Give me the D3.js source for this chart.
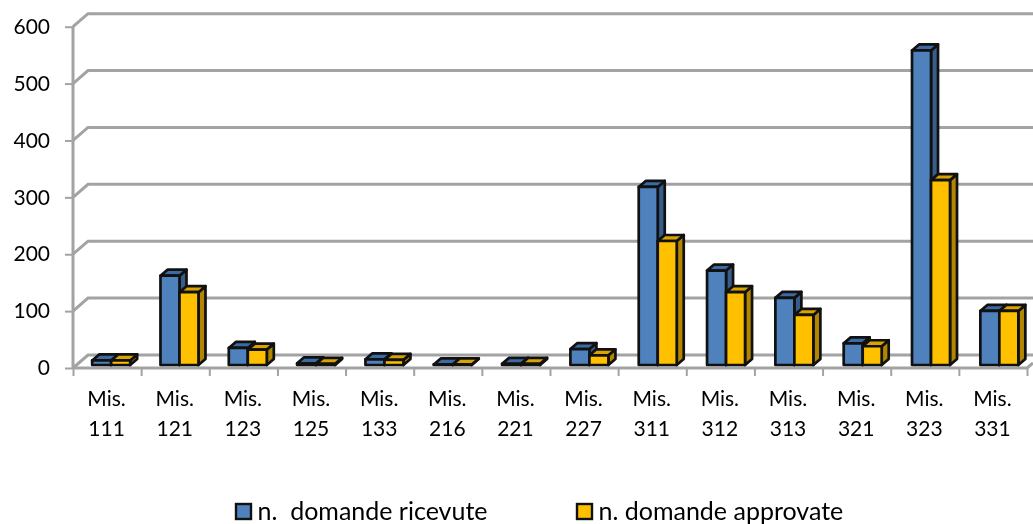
<!DOCTYPE html>
<html>
<head>
<meta charset="utf-8">
<script src="https://cdn.jsdelivr.net/npm/d3@7"></script>
<style>
  html, body { margin: 0; padding: 0; background: #fff; }
  svg { display: block; filter: blur(0.35px); }
  text { font-family: Lato, "Open Sans", sans-serif; fill: #000; }
</style>
</head>
<body>
<svg id="chart" width="1033" height="524"></svg>
<script>
const categories = ['111', '121', '123', '125', '133', '216', '221', '227', '311', '312', '313', '321', '323', '331'];
const ricevute = [8, 157, 30, 3, 10, 1, 2, 28, 313, 166, 118, 38, 553, 95];
const approvate = [8, 128, 27, 2, 9, 1, 2, 17, 218, 128, 88, 33, 325, 95];
const seriesNames = ['n.  domande ricevute', 'n. domande approvate'];
const yTicks = [0, 100, 200, 300, 400, 500, 600];

const gridColor = '#a3a3a3';
const colors = [
    { front: '#4f81bd', top: '#3c6ba3', side: '#385d8a' },
    { front: '#ffc000', top: '#d9a300', side: '#b38600' }
];

const svg = d3.select('#chart');

const left = 73, right = 1027, floorY = 368, topY = 26.7;
const wallDx = 15, wallDy = -13;   // depth of the 3d wall
const barDx = 7, barDy = -6;       // depth of a bar

const xBand = d3.scaleBand().domain(categories).range([left, right]);
const xBars = d3.scaleBand().domain(categories).range([left, right + 2.5]);
const xEdge = d3.scaleLinear().domain([0, categories.length]).range([left, right]);
const y = d3.scaleLinear().domain([0, 600]).range([floorY, topY]);

// walls and gridlines
const grid = svg.append('g').attr('fill', 'none')
    .attr('stroke', gridColor).attr('stroke-width', 3);

grid.selectAll('path.grid')
    .data(yTicks)
    .enter()
    .append('path')
    .attr('class', 'grid')
    .attr('d', d => `M${left},${y(d)}L${left + wallDx},${y(d) + wallDy}L1033,${y(d) + wallDy}`);

grid.append('path')
    .attr('d', `M${left},${y(0)}L${right},${y(0)}L1033,${y(0) - 5}`);

grid.append('path')
    .attr('d', `M${left},${y(600)}L${left},${y(0)}`);

// axes
const yAxis = d3.axisLeft(y).tickValues(yTicks).tickSize(8).tickPadding(15);
const yGroup = svg.append('g')
    .attr('transform', `translate(${left},0)`)
    .call(yAxis);
yGroup.select('.domain').remove();
yGroup.selectAll('line').attr('stroke', gridColor).attr('stroke-width', 2);
yGroup.selectAll('text').style('font-size', '21px');

const edgeAxis = d3.axisBottom(xEdge)
    .tickValues(d3.range(categories.length + 1))
    .tickFormat('')
    .tickSize(8);
const edgeGroup = svg.append('g')
    .attr('transform', `translate(0,${floorY})`)
    .call(edgeAxis);
edgeGroup.select('.domain').remove();
edgeGroup.selectAll('line').attr('stroke', gridColor).attr('stroke-width', 2);

const xAxis = d3.axisBottom(xBand).tickSize(0).tickFormat('');
const xGroup = svg.append('g')
    .attr('transform', `translate(0,${floorY})`)
    .call(xAxis);
xGroup.select('.domain').remove();
xGroup.selectAll('.tick').append('text')
    .attr('text-anchor', 'middle')
    .style('font-size', '21px')
    .each(function(d) {
        const label = d3.select(this);
        label.append('tspan').attr('x', -0.5).attr('y', 38).text('Mis.');
        label.append('tspan').attr('x', -0.5).attr('y', 68).text(d);
    });

// bars
const bw = 19;
const bars = svg.append('g')
    .attr('stroke', '#111')
    .attr('stroke-width', 2.7)
    .attr('stroke-linejoin', 'round');

function renderBars(values, color, offset) {
    const group = bars.append('g');
    const items = group.selectAll('g')
        .data(values)
        .enter()
        .append('g')
        .attr('transform', (d, i) =>
            `translate(${xBars(categories[i]) + xBars.bandwidth() / 2 + 4 + offset},-3)`);

    items.append('path')
        .attr('fill', color.side)
        .attr('d', d => `M${bw},${y(d)}l${barDx},${barDy}V${y(0) + barDy}l${-barDx},${-barDy}Z`);
    items.append('path')
        .attr('fill', color.top)
        .attr('d', d => `M0,${y(d)}l${barDx},${barDy}h${bw}l${-barDx},${-barDy}Z`);
    items.append('rect')
        .attr('fill', color.front)
        .attr('x', 0)
        .attr('y', d => y(d))
        .attr('width', bw)
        .attr('height', d => y(0) - y(d));
}

renderBars(ricevute, colors[0], -bw);
renderBars(approvate, colors[1], 0);

// legend
const legendX = d3.scalePoint().domain(seriesNames).range([236, 577]);
const legend = svg.append('g').selectAll('g')
    .data(seriesNames)
    .enter()
    .append('g')
    .attr('transform', d => `translate(${legendX(d)},504)`);

legend.append('rect')
    .attr('width', 15)
    .attr('height', 15)
    .attr('fill', (d, i) => colors[i].front)
    .attr('stroke', '#111')
    .attr('stroke-width', 2.4);

legend.append('text')
    .attr('x', 21.5)
    .attr('y', 16)
    .style('font-size', '25px')
    .style('white-space', 'pre')
    .text(d => d);
</script>
</body>
</html>
